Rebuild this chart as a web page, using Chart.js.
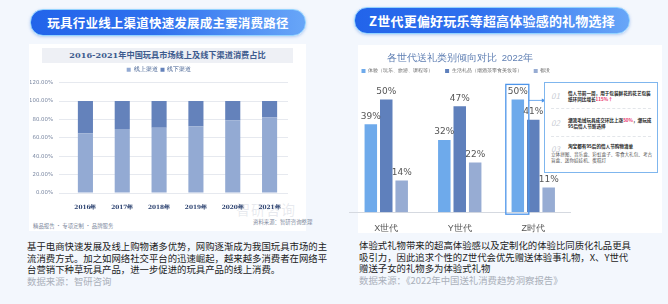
<!DOCTYPE html>
<html>
<head>
<meta charset="utf-8">
<script src="https://cdn.jsdelivr.net/npm/chart.js@4/dist/chart.umd.min.js"></script>
<style>
  body { margin: 0; }
  #page { position: relative; width: 668px; height: 304px; background: #f3f7fd; overflow: hidden;
    font-family: "Noto Sans CJK SC", "Noto Sans", sans-serif; }
  .pill { position: absolute; height: 25px; border-radius: 13px; color: #fff; font-weight: bold;
    font-size: 12.5px; line-height: 25px; text-align: center; letter-spacing: 0.2px;
    background: linear-gradient(90deg, #2264ea 0%, #2f70ee 45%, #68a6f8 100%);
    border: 1px solid #93d3ff; box-shadow: 0 1px 3px rgba(60,120,220,0.35); }
  .card { position: absolute; background: #fff; }
  .desc { position: absolute; font-size: 9.4px; line-height: 11.6px; color: #222; white-space: nowrap; }
  .src { color: #aab0ba; }
  .abs { position: absolute; white-space: nowrap; }
  #callout { position: absolute; left: 544px; top: 82px; width: 112px; height: 89px; background: #fff;
    border: 1.2px solid #7fb6ee; z-index: 5; }
  .item { position: absolute; left: 6px; width: 102px; }
  .num { position: absolute; left: 0; top: 0; font-size: 8px; color: #c8ccd4; font-style: italic; }
  .itx { position: absolute; left: 17px; top: 0; width: 86px; font-size: 4.6px; line-height: 6px;
    font-weight: bold; color: #222; white-space: normal; }
  .sub { font-weight: normal; color: #555; }
  .red { color: #e8336a; }
  .sep { position: absolute; left: 6px; width: 100px; border-top: 1px dashed #e3e6ea; }
</style>
</head>
<body>
<div id="page">
  <div class="pill" style="left:30px; top:9px; width:274px;">玩具行业线上渠道快速发展成主要消费路径</div>
  <div class="pill" style="left:354px; top:7px; width:274px; font-size:13px;">Z世代更偏好玩乐等超高体验感的礼物选择</div>

  <div class="card" style="left:29px; top:44px; width:277px; height:187px;"></div>
  <div class="abs" style="left:42px; top:48px; width:251px; height:15px; background:#eef0f5;"></div>
  <div class="abs" style="left:42px; top:48px; width:251px; height:15px; line-height:15px; text-align:center;
    font-family:'DejaVu Serif','Noto Sans CJK SC',serif; font-weight:bold; font-size:8.2px; color:#3d5b8e;">2016-2021年中国玩具市场线上及线下渠道消费占比</div>
  <div class="abs" style="left:236px; top:199px; font-size:14px; color:rgba(160,170,190,0.25); letter-spacing:1px;">智研咨询</div>
  <div class="abs" style="left:253px; top:218px; font-size:5.4px; color:#7f8ba0;">资料来源：智研咨询整理</div>
  <div class="abs" style="left:33px; top:222px; font-size:5.4px; color:#7f8ba0;">精品报告 · 专项定制 · 品牌服务</div>
  <canvas id="left" class="abs" style="left:30px; top:64px;" width="272" height="150"></canvas>

  <div class="card" style="left:358px; top:45px; width:304px; height:188px;"></div>
  <canvas id="right" class="abs" style="left:345px; top:49px;" width="228" height="188"></canvas>
  <div id="callout">
    <div class="item" style="top:7px;"><span class="num">01</span>
      <div class="itx">情人节前一周，用于包装鲜花的花艺包装纸环同比增长<span class="red">115%↑</span></div></div>
    <div class="sep" style="top:25px;"></div>
    <div class="item" style="top:34px;"><span class="num">02</span>
      <div class="itx">潮流毛绒玩具成交环比上涨<span class="red">50%</span>，潮玩成95后情人节新选择</div></div>
    <div class="sep" style="top:53px;"></div>
    <div class="item" style="top:60px;"><span class="num">03</span>
      <div class="itx">淘宝都有95后的情人节购物清单</div>
      <div class="itx sub" style="left:0; top:8px; width:102px;">立体拼图、音乐盒、彩虹盒子、零食大礼包、考古盲盒、迷你娃娃机、蛋糕灯</div></div>
  </div>

  <div class="desc" style="left:27px; top:241px;">基于电商快速发展及线上购物诸多优势，网购逐渐成为我国玩具市场的主<br>流消费方式。加之如网络社交平台的迅速崛起，越来越多消费者在网络平<br>台营销下种草玩具产品，进一步促进的玩具产品的线上消费。<br><span class="src">数据来源：智研咨询</span></div>
  <div class="desc" style="left:359px; top:240px;">体验式礼物带来的超高体验感以及定制化的体验比同质化礼品更具<br>吸引力，因此追求个性的Z世代会优先赠送体验事礼物，X、Y世代<br>赠送子女的礼物多为体验式礼物<br><span class="src">数据来源：《2022年中国送礼消费趋势洞察报告》</span></div>
</div>

<script>
const years = ['2016年', '2017年', '2018年', '2019年', '2020年', '2021年'];
const online = [65, 69.5, 71, 72.5, 79, 82];
const offline = [35, 30.5, 29, 27.5, 21, 18];

const generations = ['X世代', 'Y世代', 'Z时代'];
const experience = [39, 32, 50];
const lifeGifts = [50, 47, 41];
const none = [14, 22, 11];

new Chart(document.getElementById('left'), {
  type: 'bar',
  data: {
    labels: years,
    datasets: [
      { label: '线上渠道', data: online, backgroundColor: '#93aad3' },
      { label: '线下渠道', data: offline, backgroundColor: '#6482bb' }
    ]
  },
  options: {
    responsive: false,
    animation: false,
    layout: { padding: { left: 0, right: 14, top: 0, bottom: 0 } },
    plugins: {
      legend: {
        labels: { boxWidth: 4, boxHeight: 4, padding: 3, color: '#3d5b8e', font: { size: 5.6 } }
      },
      tooltip: { enabled: false }
    },
    scales: {
      x: {
        stacked: true,
        grid: { display: false },
        border: { display: false },
        ticks: { color: '#2c4270', padding: 3, font: { size: 5.8, weight: 'bold', family: 'DejaVu Serif' } }
      },
      y: {
        stacked: true,
        min: 0, max: 120,
        afterFit: s => { s.width = 37; },
        grid: { color: '#e6e9ef' },
        border: { display: false },
        ticks: {
          stepSize: 20, color: '#7c89a3', padding: 6,
          font: { size: 5.4, family: 'DejaVu Sans' },
          callback: v => v.toFixed(2) + '%'
        }
      }
    },
    datasets: { bar: { categoryPercentage: 1, barPercentage: 0.41 } }
  }
});

const rightDecor = {
  id: 'rightDecor',
  afterDatasetsDraw(chart) {
    const ctx = chart.ctx;
    ctx.save();
    ctx.fillStyle = '#555';
    ctx.font = '9px "DejaVu Sans"';
    ctx.textAlign = 'center';
    ctx.textBaseline = 'middle';
    chart.data.datasets.forEach((ds, i) => {
      chart.getDatasetMeta(i).data.forEach((el, j) => {
        ctx.fillText(ds.data[j] + '%', el.x, el.y - 8);
      });
    });
    // highlight on Z generation experience bar
    const el = chart.getDatasetMeta(0).data[2];
    const x0 = el.x - 12, x1 = el.x + 11;
    const y0 = el.y - 15, y1 = el.base + 2;
    ctx.strokeStyle = '#4d95ea';
    ctx.lineWidth = 1.3;
    ctx.strokeRect(x0, y0, x1 - x0, y1 - y0);
    ctx.lineWidth = 0.8;
    ctx.beginPath();
    ctx.moveTo(x1, y0 + 16);
    ctx.lineTo(x1 + 14, y0 + 16);
    ctx.stroke();
    ctx.fillStyle = '#4d95ea';
    ctx.beginPath();
    ctx.moveTo(x1 + 17, y0 + 16);
    ctx.lineTo(x1 + 13, y0 + 14);
    ctx.lineTo(x1 + 13, y0 + 18);
    ctx.fill();
    ctx.restore();
  }
};

new Chart(document.getElementById('right'), {
  type: 'bar',
  data: {
    labels: generations,
    datasets: [
      { label: '体验（玩乐、旅游、课程等）', data: experience, backgroundColor: '#6eaaeb' },
      { label: '生活礼品（烟酒茶零食美妆等）', data: lifeGifts, backgroundColor: '#5f80bc' },
      { label: '都没', data: none, backgroundColor: '#97acd3' }
    ]
  },
  options: {
    responsive: false,
    animation: false,
    layout: { padding: { left: 4.5, right: 3, top: 2, bottom: 0 } },
    plugins: {
      title: {
        display: true, text: '各世代送礼类别倾向对比  2022年',
        color: '#5f7fb3', font: { size: 9.5, weight: 'normal' }, padding: { top: 2, bottom: -8 }
      },
      legend: {
        align: 'start',
        labels: { boxWidth: 4, boxHeight: 4, padding: 12, color: '#666', font: { size: 5.2 } }
      },
      tooltip: { enabled: false }
    },
    scales: {
      x: {
        grid: { display: false },
        border: { color: '#d5d9e0' },
        ticks: { color: '#555', padding: 3, font: { size: 9 } }
      },
      y: { display: false, min: 0, max: 57 }
    },
    datasets: { bar: { categoryPercentage: 0.63, barPercentage: 0.81 } }
  },
  plugins: [rightDecor]
});
</script>
</body>
</html>
